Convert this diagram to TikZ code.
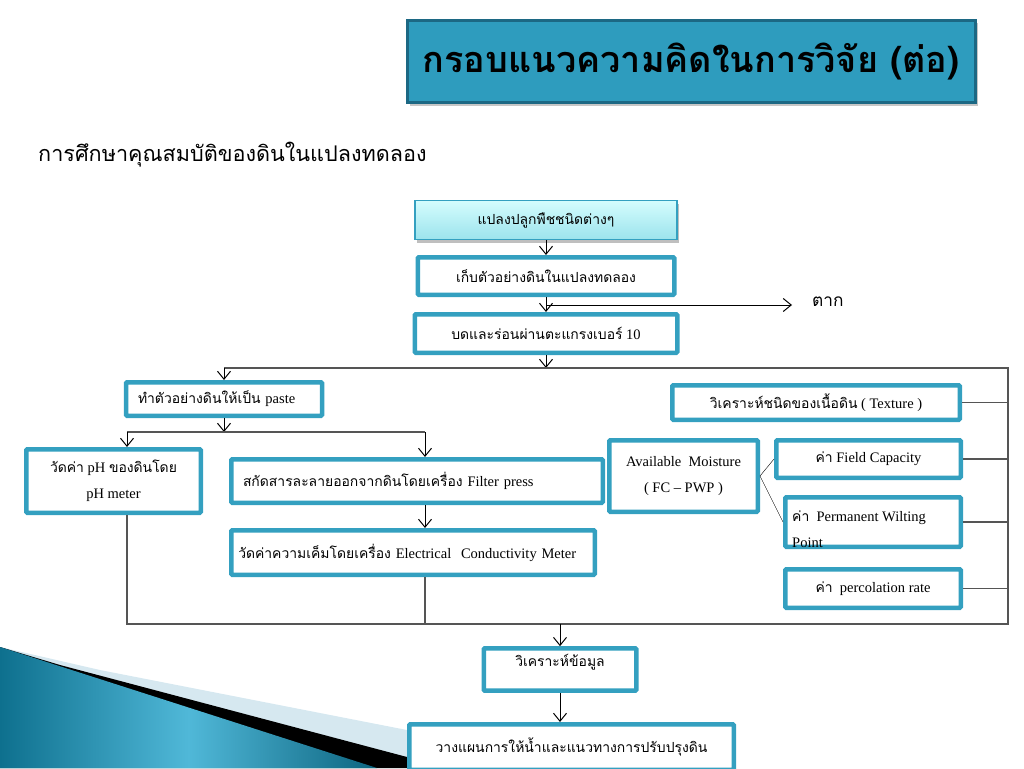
\documentclass[tikz,border=0pt]{standalone}
\usepackage{fontspec}
\setmainfont{Liberation Serif}
\newfontfamily\thai[Script=Thai,Scale=0.96]{Loma}
\newcommand{\tx}[1]{{\thai #1}}
\usetikzlibrary{arrows.meta,shadows}
\definecolor{boxteal}{RGB}{52,160,192}
\definecolor{titleblue}{RGB}{46,156,190}
\definecolor{titleedge}{RGB}{28,104,132}
\definecolor{busgray}{RGB}{85,85,85}
\definecolor{wavedark}{RGB}{14,112,142}
\definecolor{wavelight}{RGB}{80,184,216}
\definecolor{paleband}{RGB}{214,232,240}
\tikzset{
  box/.style={draw=boxteal, line width=4.5pt, fill=white, rounded corners=1pt,
    inner sep=6pt, align=center, font=\fontsize{14.5}{26}\selectfont},
  leftbox/.style={box, align=left},
  arr/.style={-{Straight Barb[length=8pt,width=13pt]}, line width=1pt},
  bus/.style={draw=busgray, line width=1.2pt},
}
\begin{document}
\begin{tikzpicture}[x=1pt,y=-1pt]
\useasboundingbox (0,0) rectangle (1024,768);
% corner decoration
\fill[paleband] (0,647) -- (100,670) -- (407,730) -- (407,768) -- (0,768) -- cycle;
\fill[black] (0,647) -- (60,665) -- (407,757) -- (407,768) -- (0,768) -- cycle;
\shade[left color=wavedark, right color=wavedark!90!black, middle color=wavelight]
  (0,647) -- (377,768) -- (0,768) -- cycle;

% title
\node[draw=titleedge, line width=3pt, fill=titleblue, minimum width=568pt, minimum height=82pt,
  drop shadow={shadow xshift=3pt, shadow yshift=-3pt, opacity=0.45},
  font=\thai\bfseries\fontsize{37.5}{40}\selectfont] (title) at (691,61.5) {กรอบแนวความคิดในการวิจัย (ต่อ)};
\node[anchor=west, inner sep=0pt, font=\thai\fontsize{22.5}{24}\selectfont] (sub) at (38,155) {การศึกษาคุณสมบัติของดินในแปลงทดลอง};

% main column
\node[draw=boxteal, line width=1.5pt, top color=paleband!40!cyan!25, bottom color=cyan!35!boxteal!45,
  minimum width=262pt, minimum height=39pt, drop shadow={shadow xshift=2pt, shadow yshift=-3pt, opacity=0.5},
  font=\fontsize{14.5}{26}\selectfont] (plot) at (546,220) {\tx{แปลงปลูกพืชชนิดต่างๆ}};
\node[box, minimum width=256.5pt, minimum height=37.5pt] (sample) at (546,276) {\tx{เก็บตัวอย่างดินในแปลงทดลอง}};
\node[box, minimum width=262.5pt, minimum height=38.5pt] (grind) at (546,333.5) {\tx{บดและร่อนผ่านตะแกรงเบอร์} 10};
\node[anchor=west, inner sep=0pt, font=\thai\fontsize{18}{20}\selectfont] (dry) at (812,302) {ตาก};

% left branch
\node[leftbox, text width=172pt, inner xsep=12pt, minimum height=33.5pt] (paste) at (224,399) {\tx{ทำตัวอย่างดินให้เป็น} paste};
\node[box, minimum width=174.5pt, minimum height=63.5pt] (ph) at (113.5,481) {\tx{วัดค่า} pH \tx{ของดินโดย}\\pH meter};
\node[leftbox, text width=348pt, inner xsep=11.75pt, minimum height=43.5pt] (filter) at (417,481) {\tx{สกัดสารละลายออกจากดินโดยเครื่อง} Filter press\\[-10pt]};
\node[leftbox, text width=349.5pt, inner xsep=7pt, minimum height=44.5pt] (ec) at (413,552.5) {\tx{วัดค่าความเค็มโดยเครื่อง} Electrical\ \ Conductivity Meter\\[-8pt]};

% right branch
\node[box, minimum width=287.5pt, minimum height=34.5pt] (texture) at (816,402.5) {\tx{วิเคราะห์ชนิดของเนื้อดิน} ( Texture )};
\node[box, minimum width=148.5pt, minimum height=71.5pt] (moist) at (683.5,476) {Available\ \ Moisture\\( FC -- PWP )};
\node[box, minimum width=184.5pt, minimum height=37.5pt] (fc) at (868.5,459) {\tx{ค่า} Field Capacity};
\node[box, minimum width=175.5pt, minimum height=49.5pt] (pwp) at (873,522) {};
\node[anchor=west, align=left, inner sep=0pt, font=\fontsize{14.5}{26}\selectfont] (pwptext) at (792,529) {\tx{ค่า}\ \ Permanent Wilting\\Point};
\node[box, minimum width=175.5pt, minimum height=38.5pt] (perc) at (873,588.5) {\tx{ค่า}\ \ percolation rate};

% bottom
\node[box, minimum width=152.5pt, minimum height=40.5pt] (analyse) at (560,669.5) {\tx{วิเคราะห์ข้อมูล}\\[-8pt]};
\node[box, minimum width=324.5pt, minimum height=45.5pt] (plan) at (571.5,747) {\tx{วางแผนการให้น้ำและแนวทางการปรับปรุงดิน}};

% buses
\coordinate (busTL) at (224,368);
\coordinate (busTR) at (1008,368);
\coordinate (busBR) at (1008,624);
\coordinate (busBL) at (127,624);
\coordinate (forkL) at (127,432);
\coordinate (forkM) at (224,432);
\coordinate (forkR) at (425,432);
\coordinate (dryfork) at (546,305);

% connectors
\draw[arr] (plot.south) -- (sample.north);
\draw[arr] (sample.south) -- (grind.north);
\draw[arr] (dryfork) -- (dryfork -| dry.west) [shorten >=20pt];
\draw[arr] (grind.south) -- (grind.south |- busTL);
\draw[bus] (busTL) -- (busTR) -- (busBR) -- (busBL) -- (busBL |- ph.south);
\draw[arr] (busTL) -- (paste.north);
\draw[arr] (paste.south) -- (forkM);
\draw[bus] (forkL) -- (forkR);
\draw[arr] (forkL) -- (forkL |- ph.north);
\draw[arr] (forkR) -- (forkR |- filter.north);
\draw[arr] (forkR |- filter.south) -- (forkR |- ec.north);
\draw[bus] (forkR |- ec.south) -- (forkR |- busBL);
\draw[bus] (texture.east) -- (texture.east -| busTR);
\draw[bus] (fc.east) -- (fc.east -| busTR);
\draw[bus] (pwp.east) -- (pwp.east -| busTR);
\draw[bus] (perc.east) -- (perc.east -| busTR);
\draw (moist.east) -- (fc.west);
\draw (moist.east) -- (pwp.west);
\draw[arr] (busBL -| analyse.north) -- (analyse.north);
\draw[arr] (analyse.south) -- (analyse.south |- plan.north);
\end{tikzpicture}
\end{document}
